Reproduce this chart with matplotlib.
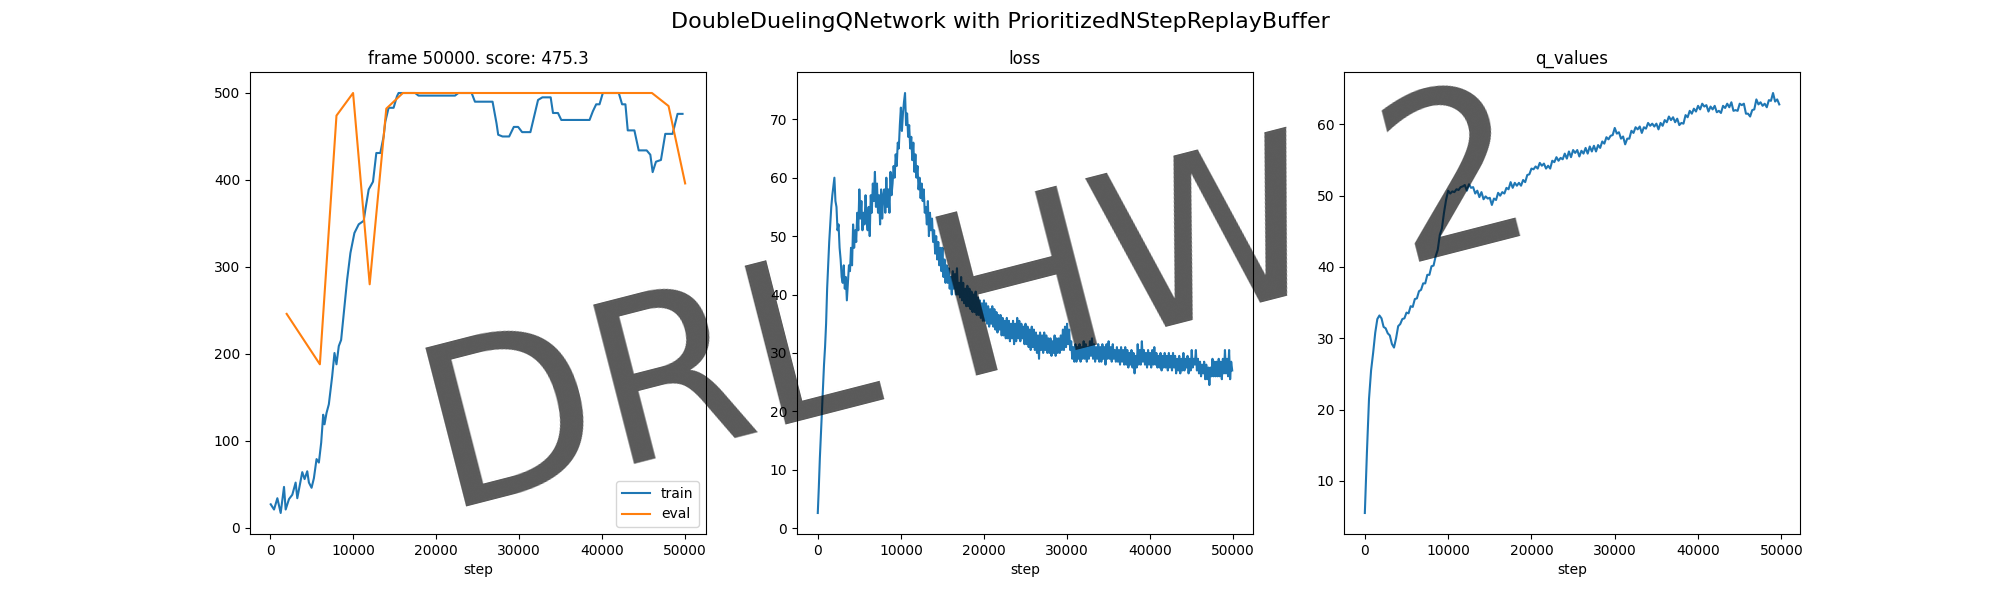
import numpy as np
import matplotlib
matplotlib.use("Agg")
import matplotlib.pyplot as plt

frame_idx = 50000
last_score = 475.3

# training score (moving average)
train_steps = [80, 480, 880, 1280, 1680, 1880, 2280, 2680, 3080, 3280, 3480, 3880, 4160, 4480,
               4680, 5000, 5280, 5600, 5880, 6160, 6400, 6560, 6800, 7080, 7480, 7760, 8000,
               8280, 8560, 9280, 9680, 10160, 10680, 11280, 11480, 11880, 12400, 12800, 13280,
               13680, 13880, 14280, 14880, 15280, 15480, 17480, 17880, 22280, 22680, 24280,
               24680, 26800, 27280, 27480, 28000, 28800, 29360, 29880, 30360, 31360, 32280,
               32800, 33800, 34080, 34680, 35080, 38484, 38884, 39284, 39684, 40084, 42004,
               42404, 42804, 43084, 43884, 44404, 45364, 45804, 46084, 46484, 47084, 47604,
               48484, 49084, 49684]
train_scores = [27, 21, 34, 17, 47, 21, 33, 38, 52, 34, 44, 64, 56, 65,
                52, 46, 57, 79, 75, 98, 130, 119, 132, 142, 174, 201, 188,
                209, 216, 285, 316, 339, 349, 353, 366, 389, 398, 431, 431,
                450, 467, 483, 483, 496, 500, 500, 497, 497, 500, 500,
                490, 490, 465, 452, 450, 450, 461, 461, 455, 455, 492,
                495, 495, 477, 477, 469, 469, 479, 487, 487, 500, 500,
                487, 487, 457, 457, 434, 434, 429, 409, 421, 423, 453,
                453, 476, 476]

eval_steps = [2000, 4000, 6000, 8000, 10000, 12000, 14000, 16000, 18000, 20000, 22000, 24000,
              26000, 28000, 30000, 32000, 34000, 36000, 38000, 40000, 42000, 44000, 46000,
              48000, 50000]
eval_scores = [246, 217, 188, 474, 500, 280, 482, 500, 500, 500, 500, 500,
               500, 500, 500, 500, 500, 500, 500, 500, 500, 500, 500,
               485, 396]

# loss, one reading every 125 steps (8 per row = 1000 steps)
loss_every = 125
losses = [
    2.6, 7, 12, 16, 20, 24, 28, 31,
    35, 41, 45, 49, 52, 55, 57, 58.5,
    60, 56, 55, 51, 52, 48, 46, 43,
    42, 45, 41, 43, 39, 42, 45, 44,
    48, 45, 52, 48, 51, 49, 54, 51,
    58, 53, 56, 51, 54, 52, 57, 53,
    51, 55, 50, 57, 54, 59, 56, 61,
    55, 59, 54, 57, 52, 58, 53, 57,
    58, 54, 60, 55, 58, 54, 61, 57,
    59, 62, 60, 64, 62, 66, 65, 69,
    72, 68, 71, 73, 74.5, 69, 71, 67,
    69, 65, 67, 63, 66, 61, 64, 60,
    62, 58, 60, 56.5, 59, 56, 58, 54,
    55, 52, 56, 50, 54, 51, 53, 49,
    51, 47, 50, 46, 49, 45, 48, 44,
    48, 43, 46, 42, 45, 42, 44.5, 41,
    43, 40, 44, 41, 43.5, 40, 44.5, 40,
    42, 39.5, 43, 39, 42, 38.5, 41, 38,
    41.5, 38, 41, 37.5, 40.5, 37, 40, 37,
    40.5, 36.5, 39.5, 36.5, 39, 36, 38.5, 35.5,
    39, 35.5, 38.5, 35, 38, 34.5, 37.5, 35,
    38, 34.5, 37.5, 34, 37, 33.5, 36.5, 34,
    36.5, 33, 36, 33, 35.5, 32.5, 36, 32.5,
    35.5, 32, 35, 32.5, 35.5, 31.5, 35, 32,
    36, 32.5, 35.5, 32, 35, 32.5, 34.5, 31.5,
    35, 31.5, 34.5, 31, 34, 30.5, 34.5, 31,
    34, 30.5, 33.5, 30, 33, 29, 33.5, 30.5,
    33, 30, 33.5, 30.5, 33, 30, 32.5, 30,
    32.5, 29.5, 32, 30, 33, 29.5, 32.5, 30,
    32.5, 30, 33, 30.5, 34, 30.5, 34.5, 31,
    35, 31.5, 34, 30.5, 32, 29, 31, 28.5,
    31.5, 28.5, 31, 29, 31.5, 28.5, 31, 29,
    32, 29, 31.5, 28.5, 31, 29, 32, 29.5,
    32.5, 29, 31.5, 28.5, 31, 29, 31.5, 28.5,
    31, 28.5, 31.5, 29, 31, 28, 31.5, 29,
    32, 29, 31, 28.5, 31.5, 29, 30.5, 28.5,
    31, 28.5, 30.5, 28, 31, 28.5, 30.5, 28,
    31, 28, 30.5, 27.5, 30, 28, 30.5, 27.5,
    30, 26.5, 29.5, 27.5, 31.5, 28, 30.5, 28,
    32, 28.5, 30.5, 28, 30, 27.5, 30.5, 28,
    30, 27.5, 30.5, 28, 31, 28, 30, 27.5,
    29.5, 27.5, 30, 27, 29.5, 27.5, 30, 27.5,
    29.5, 27, 30, 27.5, 29.5, 27, 30, 27.5,
    29.5, 26.5, 29, 27, 29.5, 26.5, 29, 27,
    30, 27, 29, 27.5, 29.5, 26.5, 29, 27,
    30.5, 27.5, 29, 28, 30.5, 27, 29, 26.5,
    28.5, 26, 28, 26.5, 28.5, 25.5, 28, 25.5,
    27.5, 24.5, 27.5, 26, 29, 26, 28.5, 26,
    28.5, 26, 29, 26, 28.5, 25.5, 29, 26.5,
    30.5, 26.5, 29, 26, 30.5, 25.5, 28.5, 27,
]

# mean q value, one reading every 250 steps (8 per row = 2000 steps)
q_every = 250
q_values = [
    5.5, 14, 21.5, 25.5, 28, 30.8, 32.7, 33.2,
    32.8, 31.6, 31.4, 30.7, 30.4, 29.2, 28.7, 30.0,
    31.7, 32.0, 32.7, 32.8, 33.6, 33.5, 34.5, 34.4,
    35.5, 35.6, 36.6, 36.8, 37.7, 37.7, 38.9, 38.9,
    40.1, 40.2, 41.5, 42.4, 44.5, 45.4, 47.6, 49.4,
    50.7, 50.3, 50.6, 50.5, 50.9, 50.8, 51.2, 51.3,
    51.5, 50.7, 51.6, 51.1, 51.2, 50.3, 50.7, 49.8,
    50.5, 49.5, 49.9, 49.6, 49.7, 48.7, 49.6, 49.4,
    50.4, 50.0, 50.5, 50.3, 51.1, 50.9, 51.9, 51.1,
    51.8, 51.4, 51.8, 51.4, 52.2, 51.9, 52.9, 53.0,
    53.8, 53.7, 54.1, 53.8, 54.6, 54.2, 54.5, 53.8,
    54.2, 53.8, 54.9, 54.7, 55.4, 54.9, 55.3, 55.1,
    55.9, 55.2, 56.2, 55.4, 56.4, 56.0, 56.4, 55.5,
    56.3, 55.9, 56.7, 55.9, 56.9, 56.2, 57.0, 56.2,
    57.1, 56.7, 57.6, 57.3, 58.2, 57.9, 58.4, 58.5,
    59.5, 58.7, 58.9, 58.0, 58.3, 57.2, 58.0, 58.0,
    59.1, 58.8, 59.6, 59.3, 59.7, 58.8, 59.6, 59.4,
    60.2, 59.8, 60.1, 59.7, 60.1, 59.3, 60.2, 59.8,
    60.6, 60.3, 61.1, 60.6, 61.0, 60.3, 60.8, 59.9,
    60.2, 60.1, 61.3, 61.0, 61.9, 61.5, 62.2, 61.8,
    62.6, 62.1, 62.9, 62.5, 62.7, 61.8, 62.5, 62.1,
    62.6, 61.7, 61.9, 61.6, 62.6, 62.3, 62.9, 62.4,
    63.1, 61.9, 62.0, 61.9, 62.9, 62.7, 62.9, 61.5,
    61.5, 61.1, 62.0, 62.1, 63.5, 62.8, 63.1, 62.6,
    62.9, 62.4, 63.4, 63.3, 64.4, 63.2, 63.5, 62.8,
]

loss_steps = np.arange(len(losses)) * loss_every
q_steps = np.arange(len(q_values)) * q_every

fig = plt.figure(figsize=(20, 6), dpi=100)
fig.suptitle("DoubleDuelingQNetwork with PrioritizedNStepReplayBuffer", fontsize=16)

plt.subplot(131)
plt.title(f"frame {frame_idx}. score: {last_score}")
plt.plot(train_steps, train_scores, label="train")
plt.plot(eval_steps, eval_scores, label="eval")
plt.xlabel("step")
plt.legend(loc="lower right")

plt.subplot(132)
plt.title("loss")
plt.plot(loss_steps, losses)
plt.xlabel("step")

plt.subplot(133)
plt.title("q_values")
plt.plot(q_steps, q_values)
plt.xlabel("step")

# watermark over everything
fig.text(0.489, 0.483, "DRL HW 2", fontsize=162, rotation=14.4, color="black",
         alpha=0.65, ha="center", va="center", zorder=10)

plt.savefig("out.png")
plt.close()
